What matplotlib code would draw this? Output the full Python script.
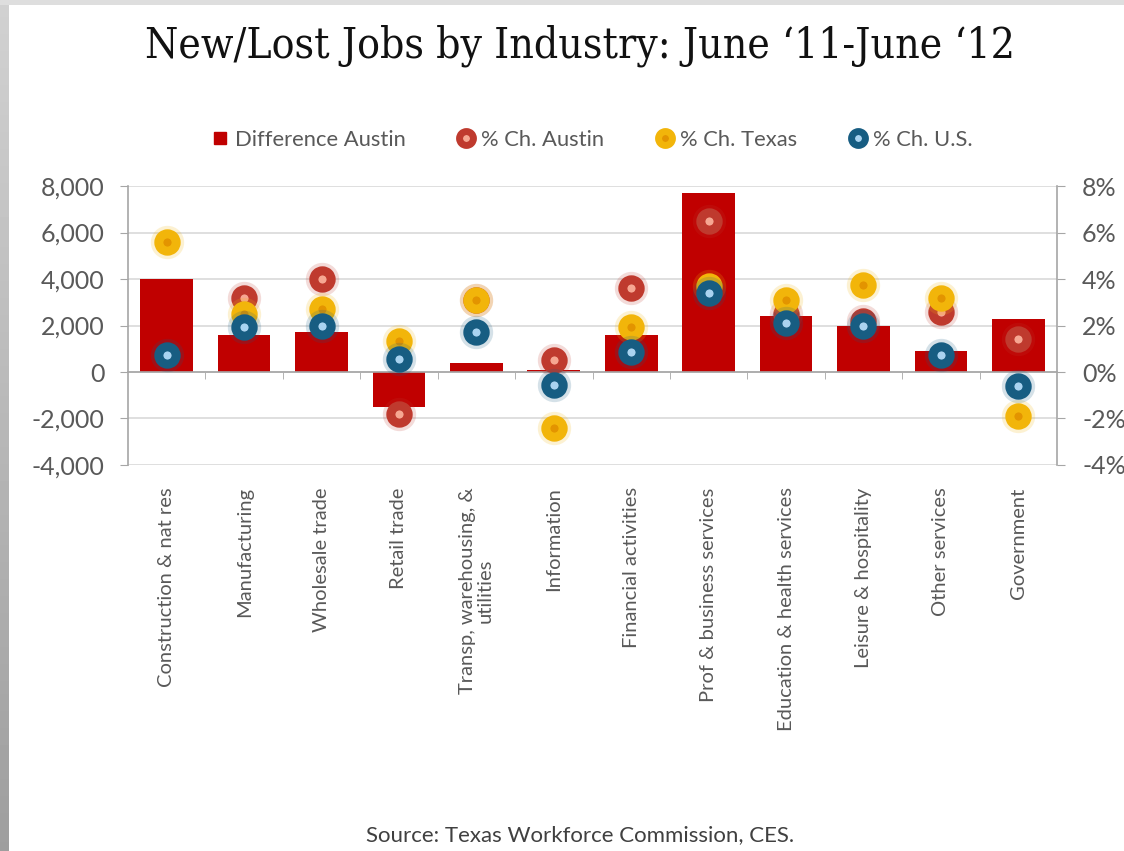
import numpy as np
import matplotlib.pyplot as plt
from matplotlib.lines import Line2D
from matplotlib.ticker import FuncFormatter, FixedLocator

# industries and year-over-year job changes, June '11 - June '12
categories = ['Construction & nat res', 'Manufacturing', 'Wholesale trade',
              'Retail trade', 'Transp, warehousing, &\nutilities', 'Information',
              'Financial activities', 'Prof & business services',
              'Education & health services', 'Leisure & hospitality',
              'Other services', 'Government']
diff_austin = [4000, 1600, 1700, -1500, 400, 100, 1600, 7700, 2400, 2000, 900, 2300]
pct_austin = [9.8, 3.2, 4.0, -1.8, 3.1, 0.5, 3.6, 6.5, 2.5, 2.2, 2.6, 1.4]
pct_texas = [5.6, 2.5, 2.7, 1.35, 3.1, -2.4, 1.95, 3.7, 3.1, 3.75, 3.2, -1.9]
pct_us = [0.75, 1.95, 2.0, 0.55, 1.7, -0.55, 0.85, 3.4, 2.1, 2.0, 0.75, -0.6]

left_ticks = [-4000, -2000, 0, 2000, 4000, 6000, 8000]
right_ticks = [-4, -2, 0, 2, 4, 6, 8]

BAR = '#c00000'
AXC = '#a6a6a6'
TXT = '#595959'
# ring colour, centre colour
RINGS = {'Austin': ('#bf3a2e', '#f6a792'),
         'Texas': ('#f2b50a', '#e39400'),
         'US': ('#175d82', '#a9d3f0')}

fig = plt.figure(figsize=(11.24, 8.51), dpi=100)
fig.patch.set_facecolor('white')

# slide edges: grey band down the left, thin strip along the top
edge = fig.add_axes([0, 0, 0.0072, 1])
edge.imshow(np.linspace(0.82, 0.62, 200).reshape(-1, 1), cmap='gray',
            vmin=0, vmax=1, aspect='auto')
edge.axis('off')
top = fig.add_axes([0, 0.994, 1, 0.006])
top.axis('off')
top.add_patch(plt.Rectangle((0, 0), 1, 1, color='#dedede', transform=top.transAxes))

ax = fig.add_axes([0.1139, 0.4536, 0.8265, 0.3278])
x = np.arange(len(categories))
ax.bar(x, diff_austin, width=0.68, color=BAR, zorder=2)

ax.set_xlim(-0.5, len(categories) - 0.5)
ax.set_ylim(left_ticks[0], left_ticks[-1])
ax.set_yticks(left_ticks)
ax.yaxis.set_major_formatter(FuncFormatter(lambda v, p: f'{int(v):,}'))
ax.grid(axis='y', color='#d9d9d9', lw=1.2, zorder=0)
ax.set_axisbelow(True)

for s in ['top', 'right']:
    ax.spines[s].set_visible(False)
ax.spines['left'].set_color(AXC)
ax.spines['left'].set_linewidth(1.2)
ax.spines['bottom'].set_position(('data', 0))
ax.spines['bottom'].set_color(AXC)
ax.spines['bottom'].set_linewidth(1.2)

ax.set_xticks(x)
ax.set_xticklabels(categories, rotation=90, va='top', ha='center',
                   fontsize=14.5, color=TXT, family='Lato', linespacing=1.1)
ax.xaxis.set_minor_locator(FixedLocator(x[:-1] + 0.5))
ax.tick_params(axis='x', which='major', length=0, pad=83)
ax.tick_params(axis='x', which='minor', length=5, color=AXC, direction='out')
ax.tick_params(axis='y', length=6, color=AXC, labelcolor=TXT, labelsize=18, pad=11)
for lab in ax.get_yticklabels():
    lab.set_family('Lato')

ax2 = ax.twinx()
ax2.set_ylim(right_ticks[0], right_ticks[-1])
ax2.set_yticks(right_ticks)
ax2.yaxis.set_major_formatter(FuncFormatter(lambda v, p: f'{int(v)}%'))
for s in ['top', 'left', 'bottom']:
    ax2.spines[s].set_visible(False)
ax2.spines['right'].set_color(AXC)
ax2.spines['right'].set_linewidth(1.2)
ax2.tick_params(axis='y', length=6, color=AXC, labelcolor=TXT, labelsize=18, pad=12)
for lab in ax2.get_yticklabels():
    lab.set_family('Lato')


def rings(vals, key, z):
    ring, core = RINGS[key]
    # soft halo, then the ring with a pale centre
    ax2.plot(x, vals, ls='none', marker='o', ms=21, mfc='none', mec=ring,
             mew=3, alpha=0.18, zorder=z)
    ax2.plot(x, vals, ls='none', marker='o', ms=12.5, mfc=core, mec=ring,
             mew=6.5, zorder=z)


rings(pct_austin, 'Austin', 3)
rings(pct_texas, 'Texas', 4)
rings(pct_us, 'US', 5)

# legend
handles = [Line2D([], [], ls='none', marker='s', ms=9, color=BAR)]
for key in ['Austin', 'Texas', 'US']:
    ring, core = RINGS[key]
    handles.append(Line2D([], [], ls='none', marker='o', ms=10, mfc=core,
                          mec=ring, mew=5))
leg = fig.legend(handles, ['Difference Austin', '% Ch. Austin', '% Ch. Texas', '% Ch. U.S.'],
                 loc='center', bbox_to_anchor=(0.526, 1 - 140 / 851), ncol=4,
                 frameon=False, handlelength=0.9, handletextpad=0.25,
                 columnspacing=2.3, prop={'family': 'Lato', 'size': 15.8})
for t in leg.get_texts():
    t.set_color(TXT)

fig.text(0.516, 1 - 46 / 851, 'New/Lost Jobs by Industry: June \u201811-June \u201812',
         ha='center', va='center', fontsize=30.5, color='#111111',
         family=['DejaVu Serif Condensed', 'DejaVu Serif'], fontstretch='condensed')

fig.text(0.516, 1 - 835 / 851, 'Source: Texas Workforce Commission, CES.',
         ha='center', va='center', fontsize=16, color='#404040', family='Lato')

fig.savefig('out.png', dpi=100)
